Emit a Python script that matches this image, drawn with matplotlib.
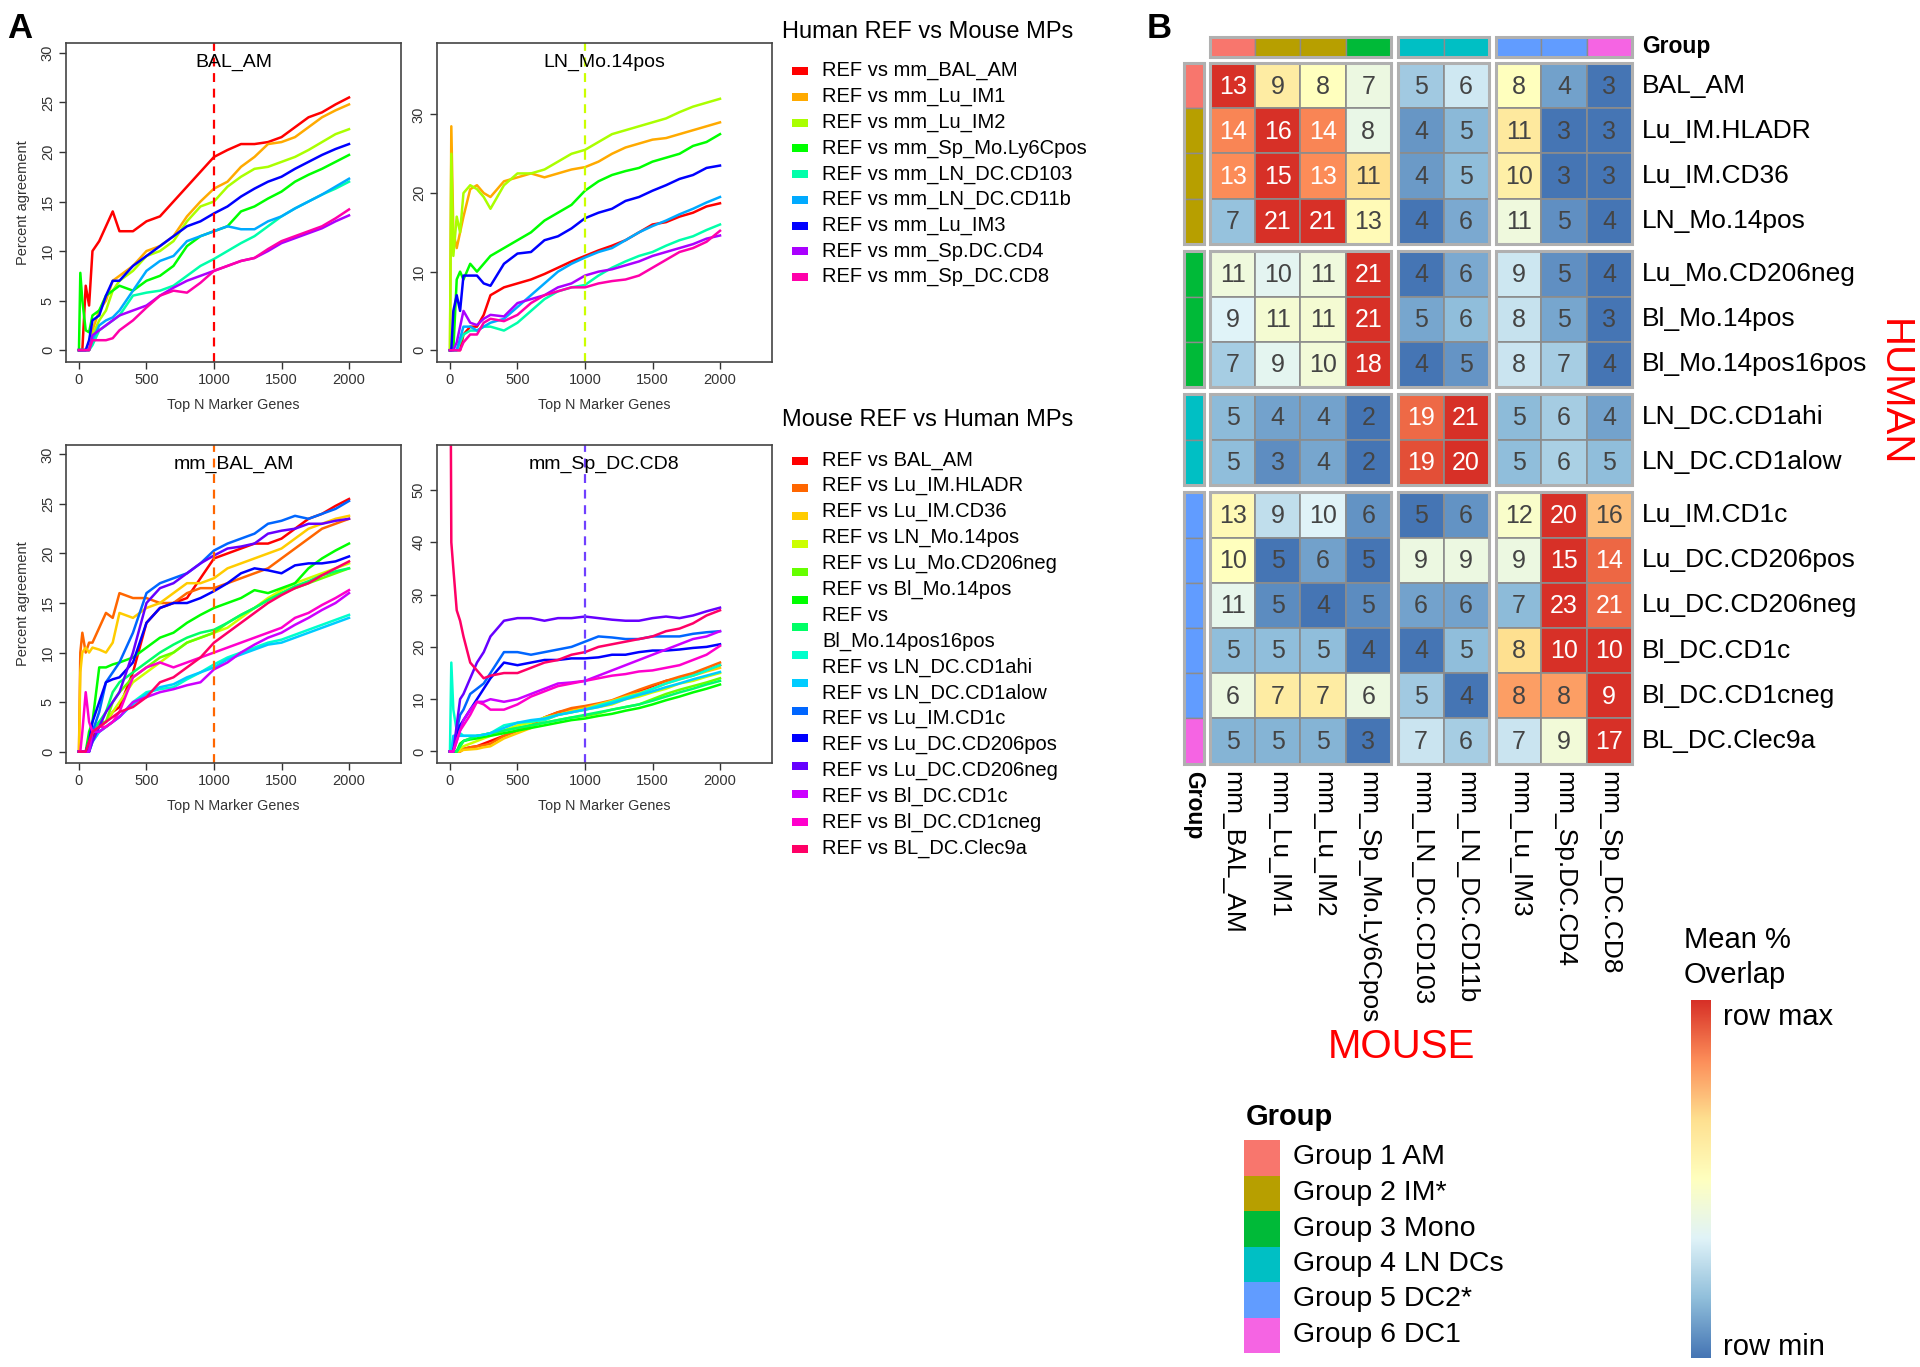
import numpy as np
import matplotlib
matplotlib.use("Agg")
import matplotlib.pyplot as plt
from matplotlib.patches import Rectangle
from matplotlib.colors import LinearSegmentedColormap, hsv_to_rgb

plt.rcParams['font.family'] = ['Liberation Sans', 'DejaVu Sans']

# ---------------- panel A data (percent agreement read at these N) ----------------
top_n = [0, 10, 25, 50, 75, 100, 150, 200, 250, 300, 400, 500, 600, 700,
         800, 900, 1000, 1100, 1200, 1300, 1400, 1500, 1600, 1700, 1800, 1900, 2000]

mouse_mps = ['mm_BAL_AM', 'mm_Lu_IM1', 'mm_Lu_IM2', 'mm_Sp_Mo.Ly6Cpos', 'mm_LN_DC.CD103',
             'mm_LN_DC.CD11b', 'mm_Lu_IM3', 'mm_Sp.DC.CD4', 'mm_Sp_DC.CD8']
human_mps = ['BAL_AM', 'Lu_IM.HLADR', 'Lu_IM.CD36', 'LN_Mo.14pos', 'Lu_Mo.CD206neg',
             'Bl_Mo.14pos', 'Bl_Mo.14pos16pos', 'LN_DC.CD1ahi', 'LN_DC.CD1alow', 'Lu_IM.CD1c',
             'Lu_DC.CD206pos', 'Lu_DC.CD206neg', 'Bl_DC.CD1c', 'Bl_DC.CD1cneg', 'BL_DC.Clec9a']

# human REF BAL_AM vs mouse MPs
ref_bal_am = [
    [0, 0, 0, 6.5, 4.5, 10, 11, 12.5, 14, 12, 12, 13, 13.5, 15, 16.5, 18, 19.5, 20.2, 20.8, 20.8, 21, 21.5, 22.5, 23.5, 24, 24.8, 25.5],
    [0, 0, 0, 0, 0, 2, 4, 5, 7, 7.5, 8.5, 10, 10.5, 11.5, 13.5, 15, 16.3, 17, 18.5, 19.5, 20.8, 21, 21.5, 22.5, 23.5, 24.2, 24.8],
    [0, 0, 0, 0, 0, 1.5, 3, 4, 6, 7, 8, 9.5, 10, 11, 13, 14.5, 15, 16.5, 17.5, 18.3, 18.5, 19, 19.5, 20.2, 21, 21.8, 22.3],
    [0, 7.8, 5, 2, 1.8, 3.5, 4, 5.5, 6, 6.5, 6, 7, 7.5, 8.5, 10.5, 11.5, 12, 12.5, 14, 14.5, 15.3, 16, 17, 17.7, 18.3, 19, 19.7],
    [0, 0, 0, 0, 0, 0.5, 2, 2.5, 3, 3.5, 5.5, 5.8, 6, 6.5, 7.5, 8.5, 9.2, 10, 10.8, 11.5, 12.5, 13.5, 14.3, 15, 15.7, 16.3, 17],
    [0, 0, 0, 0, 0, 1, 2.5, 3, 3.3, 4, 6, 8, 9, 9.5, 11, 11.5, 12, 12.5, 12.2, 12.2, 13, 13.5, 14.3, 15, 15.7, 16.5, 17.3],
    [0, 0, 0, 0, 1, 3, 3.5, 5.5, 7, 7, 8.5, 9.5, 10.5, 11.5, 12.5, 13, 13.8, 14.5, 15.5, 16.3, 17, 17.5, 18.3, 19, 19.7, 20.3, 20.8],
    [0, 0, 0, 0, 0, 1.5, 2, 2.5, 3, 3.5, 4, 4.5, 5.5, 6.3, 7, 7.5, 8, 8.5, 9, 9.3, 10, 10.8, 11.3, 11.8, 12.3, 13, 13.6],
    [0, 0, 0, 0, 0, 1, 1, 1, 1.2, 2, 3, 4.3, 5.5, 6, 5.8, 6.8, 8, 8.5, 9, 9.3, 10.2, 11, 11.5, 12, 12.5, 13.3, 14.2],
]

# human REF LN_Mo.14pos vs mouse MPs
ref_ln_mo14 = [
    [0, 0, 0, 0, 0, 2, 3, 3, 4.5, 7, 8, 8.5, 9, 9.7, 10.5, 11.3, 12, 12.7, 13.3, 14, 15, 16, 16.3, 17, 17.5, 18.3, 18.7],
    [0, 28.5, 15, 13, 15, 17, 20.5, 21, 20, 19.5, 21.5, 22, 22.5, 22, 22.5, 23, 23.3, 24, 25, 25.8, 26.3, 26.8, 27, 27.5, 28, 28.5, 29],
    [0, 25, 12, 17, 15, 20, 21, 20.5, 19.5, 18, 21, 22.5, 22.5, 23, 24, 25, 25.5, 26.5, 27.5, 28, 28.5, 29, 29.5, 30.3, 31, 31.5, 32],
    [0, 0, 0, 9, 10, 9, 11, 10, 11, 12, 13, 14, 15, 16.5, 17.5, 18.5, 20.3, 21.5, 22.3, 22.8, 23.2, 24, 24.5, 25, 26, 26.5, 27.5],
    [0, 0, 0, 0, 1, 2, 2.5, 2.5, 3, 3, 2.5, 3.5, 5, 6.5, 7.5, 8, 8.3, 9.5, 10.5, 11.3, 12, 12.5, 13.3, 14, 14.5, 15.3, 16],
    [0, 0, 0, 0, 1.5, 3, 3, 2.5, 3, 3.5, 4, 5.5, 7, 8.5, 10, 11, 11.8, 12.5, 13, 14, 15, 15.8, 16.5, 17.3, 18, 18.8, 19.5],
    [0, 0, 5, 7, 5, 9.5, 9.5, 9.5, 8.5, 8.2, 11, 12.3, 12.5, 14, 14.5, 15.5, 16.8, 17.5, 18, 19, 19.5, 20.3, 21, 21.8, 22.3, 23.2, 23.5],
    [0, 0, 0, 1, 3, 5, 3.5, 3.2, 4, 4.5, 4.3, 6, 6.5, 7, 8, 8.5, 9.5, 10, 10.3, 10.8, 11.3, 12, 12.5, 13, 13.5, 14.2, 14.6],
    [0, 0, 0, 0, 0, 1, 2, 2, 3.5, 4, 3.7, 4.5, 6, 7, 7.5, 8, 8, 8.5, 8.8, 9, 9.5, 10.5, 11.5, 12.5, 13, 13.8, 15.2],
]

# mouse REF mm_BAL_AM vs human MPs
ref_mm_bal_am = [
    [0, 0, 0, 0, 0, 1.5, 2.5, 3, 4, 4.5, 8, 13, 14.5, 15, 15.5, 17.5, 19.5, 20, 20.5, 21, 21, 21.5, 22.5, 23.5, 24, 24.8, 25.5],
    [0, 10, 12, 10, 11, 11, 12.5, 14, 13.5, 16, 15.5, 15.5, 15, 15, 16, 16.5, 16.5, 17, 17.5, 18, 18.5, 19.5, 20.5, 21.5, 22.5, 23, 23.5],
    [0, 8, 10, 10.5, 10, 10.5, 10.3, 10, 11, 14, 13.5, 14.5, 15, 16, 17, 17, 17.5, 18.5, 19, 19.5, 20, 20.5, 21.5, 22.5, 23, 23.5, 23.8],
    [0, 0, 0, 0, 1, 2, 2.5, 3, 4, 5, 7, 8, 9, 10, 11, 11.5, 12, 12.5, 13.5, 14.5, 15.5, 16.3, 17, 17.5, 18, 18.5, 19],
    [0, 0, 0, 0, 1, 2, 3, 3, 5, 6, 7.5, 8.5, 9.5, 10, 11, 11.5, 12, 13, 13.8, 14.5, 15.3, 16, 16.5, 17, 17.5, 18, 18.5],
    [0, 0, 0, 0, 2, 3, 8.5, 8.5, 8.8, 9, 9.5, 10.5, 11.5, 12, 13, 13.8, 14.5, 15, 15.5, 16.3, 16, 16.5, 17, 18.5, 19.5, 20.3, 21],
    [0, 0, 0, 0, 1, 2, 3, 4, 6, 7, 8, 9, 10, 10.8, 11.5, 12, 12.3, 13, 13.8, 14.5, 15.3, 16, 16.7, 17.2, 17.8, 18.2, 18.5],
    [0, 0, 0, 0, 0, 1, 2, 2.5, 3, 3.5, 5, 6, 6.3, 6.5, 7.3, 8, 8.8, 9.5, 10, 10.5, 11, 11.3, 11.8, 12.3, 12.8, 13.3, 13.8],
    [0, 0, 0, 0, 0, 1, 2, 2.5, 3, 3.5, 4.8, 5.8, 6.5, 6.8, 7.5, 8, 8.5, 9.3, 9.8, 10.3, 10.8, 11, 11.5, 12, 12.5, 13, 13.5],
    [0, 0, 0, 0, 0, 2, 4, 7, 8, 9, 12, 16, 17, 17.5, 18, 19, 20.3, 21, 21.5, 22, 23, 23.3, 23.8, 23.5, 24, 24.5, 25.3],
    [0, 0, 0, 0, 1, 3, 5, 7, 7.3, 7.5, 9, 13, 14.5, 15, 15, 15.5, 16.2, 17, 18, 18.5, 18.3, 18, 18.8, 19, 19, 19.2, 19.7],
    [0, 0, 0, 0, 0, 1, 2.5, 4, 5, 6, 10, 15, 16.5, 17, 18, 19, 19.8, 20.5, 20.7, 21, 22, 22.3, 22.5, 23, 23, 23.3, 23.5],
    [0, 0, 0, 0, 0, 2, 2, 2.5, 3, 3.5, 5, 5.5, 6, 6.3, 6.7, 7, 8.3, 9, 10, 10.8, 11.5, 12, 12.8, 13.5, 14.3, 15, 16],
    [0, 0, 2, 6, 3, 2, 2.5, 2.5, 3, 4, 7.5, 8.5, 9, 8.5, 9, 9.5, 10, 10.5, 11, 11.5, 12, 12.5, 13.5, 14, 14.8, 15.5, 16.3],
    [0, 0, 0, 0, 1, 2, 2.5, 3, 3.5, 4, 4.5, 5.5, 7, 7.5, 8.5, 9.5, 11, 12, 13, 14, 15, 15.8, 16.5, 17, 17.8, 18.5, 19.2],
]

# mouse REF mm_Sp_DC.CD8 vs human MPs
ref_mm_sp_dc_cd8 = [
    [0, 0, 0, 0, 0, 0.5, 0.8, 1, 1.5, 2, 3, 4, 5, 6.5, 7.5, 8, 8.5, 9, 9.5, 10.5, 11.5, 12.5, 13.5, 14, 14.8, 15.5, 16.5],
    [0, 0, 0, 0, 0, 0.5, 0.8, 1, 1.2, 1.5, 3, 4, 5, 6.5, 7.5, 8.3, 8.7, 9.2, 9.8, 10.8, 11.8, 12.7, 13.5, 14.3, 15, 16, 17],
    [0, 0, 0, 0, 0, 0.3, 0.4, 0.5, 0.8, 1, 2.5, 3.5, 4.5, 6, 7, 7.8, 8.3, 9, 9.7, 10.5, 11.2, 12, 13, 13.8, 14.5, 15.3, 16],
    [0, 0, 0, 0, 0.5, 1, 1.5, 2, 2.5, 3, 4, 5, 5.5, 6.5, 7, 7.5, 8, 8.5, 9, 10, 10.5, 11.3, 12, 13, 13.5, 14.3, 15],
    [0, 0, 0, 0, 1, 2, 2.5, 3, 3.2, 3.5, 4, 4.5, 5, 5.5, 6, 6.5, 6.8, 7.3, 8, 8.5, 9, 10, 11, 11.8, 12.5, 13.2, 14],
    [0, 0, 0, 0, 1.5, 2, 2.3, 2.5, 2.8, 3, 3.5, 4, 4.5, 5, 5.5, 6, 6.3, 6.8, 7.2, 7.8, 8.3, 9, 9.8, 10.5, 11.3, 12, 12.8],
    [0, 0, 0, 0, 1, 2, 2.5, 3, 3.2, 3.5, 4, 4.5, 5, 5.5, 6, 6.5, 7, 7.5, 8, 8.5, 9, 9.7, 10.5, 11.3, 12, 12.8, 13.5],
    [0, 17, 8, 4, 3.5, 3, 3, 3, 3.2, 3.5, 5, 5.5, 5.7, 6, 7, 7.5, 8, 8.8, 9.5, 10.3, 11, 12, 13, 13.8, 14.5, 15.5, 16.5],
    [0, 0, 3, 3, 3, 3, 3, 3, 3.2, 3.5, 4.5, 5.5, 6, 6.3, 7, 7.5, 8, 8.5, 9.2, 10, 10.8, 11.5, 12.3, 13, 13.8, 14.5, 15.2],
    [0, 0, 0, 4, 7, 8, 11, 12, 13, 15, 19, 19, 18.5, 19, 19.5, 20, 21, 22, 21.8, 21.5, 21.5, 22, 22, 22, 22.5, 22.8, 23],
    [0, 0, 0, 3, 5, 6, 8, 10, 12, 14, 17, 16.5, 17, 17.5, 17.5, 17.8, 17.8, 18, 18.5, 18.5, 19, 19.3, 19.3, 19.5, 19.8, 20, 20.5],
    [0, 0, 0, 5, 10, 11, 14, 17, 19, 22, 25, 25.5, 25.5, 25, 25.5, 25.5, 25.8, 25.5, 25.2, 25, 25, 25.5, 25.8, 25.5, 26, 26.8, 27.5],
    [0, 0, 0, 2, 4, 6, 8, 9.5, 9.5, 10, 9.5, 10, 11, 12, 13, 13.2, 13.5, 14.5, 15.5, 16.5, 17.5, 18.5, 19.5, 20.5, 21.5, 22, 23],
    [0, 0, 0, 2, 4, 5, 7, 9.5, 9, 8, 8, 9, 10.5, 11.5, 12.5, 13, 13.5, 14, 14.5, 14.8, 15.3, 15.5, 16, 16.5, 17.5, 18.5, 20.2],
    [100, 40, 35, 27, 25, 22, 17, 15.5, 14, 14.5, 15, 15, 16, 17, 17.5, 18.5, 19, 20, 20.5, 21, 21.5, 22, 23, 23.5, 24.5, 26, 27],
]

# ---------------- panel B data (mean % overlap, human rows x mouse cols) ----------------
overlap = [
    [13, 9, 8, 7, 5, 6, 8, 4, 3],
    [14, 16, 14, 8, 4, 5, 11, 3, 3],
    [13, 15, 13, 11, 4, 5, 10, 3, 3],
    [7, 21, 21, 13, 4, 6, 11, 5, 4],
    [11, 10, 11, 21, 4, 6, 9, 5, 4],
    [9, 11, 11, 21, 5, 6, 8, 5, 3],
    [7, 9, 10, 18, 4, 5, 8, 7, 4],
    [5, 4, 4, 2, 19, 21, 5, 6, 4],
    [5, 3, 4, 2, 19, 20, 5, 6, 5],
    [13, 9, 10, 6, 5, 6, 12, 20, 16],
    [10, 5, 6, 5, 9, 9, 9, 15, 14],
    [11, 5, 4, 5, 6, 6, 7, 23, 21],
    [5, 5, 5, 4, 4, 5, 8, 10, 10],
    [6, 7, 7, 6, 5, 4, 8, 8, 9],
    [5, 5, 5, 3, 7, 6, 7, 9, 17],
]
group_names = ['Group 1 AM', 'Group 2 IM*', 'Group 3 Mono', 'Group 4 LN DCs', 'Group 5 DC2*', 'Group 6 DC1']
group_colors = ['#F8766D', '#B79F00', '#00BA38', '#00BFC4', '#619CFF', '#F564E3']
row_groups = [0, 1, 1, 1, 2, 2, 2, 3, 3, 4, 4, 4, 4, 4, 5]
col_groups = [0, 1, 1, 2, 3, 3, 4, 4, 5]
row_block = [0, 0, 0, 0, 1, 1, 1, 2, 2, 3, 3, 3, 3, 3, 3]
col_block = [0, 0, 0, 0, 1, 1, 2, 2, 2]

W, H = 1920, 1367
fig = plt.figure(figsize=(19.2, 13.67), dpi=100)


def px_axes(x0, y0, x1, y1):
    return fig.add_axes([x0 / W, 1 - y1 / H, (x1 - x0) / W, (y1 - y0) / H])


# overlay in pixel coordinates for labels and legends
ov = px_axes(0, 0, W, H)
ov.set_xlim(0, W)
ov.set_ylim(H, 0)
ov.axis('off')


def rainbow(n):
    return [hsv_to_rgb((k / n, 1, 1)) for k in range(n)]


top_colors = rainbow(9)
bot_colors = rainbow(15)


def line_panel(box, series, colors, title, vcolor, ylim, yticks, ylabel):
    ax = px_axes(*box)
    for vals, c in zip(series, colors):
        ax.plot(top_n, vals, color=c, lw=1.8, solid_joinstyle='round')
    ax.axvline(1000, color=vcolor, lw=1.6, ls=(0, (4, 3)))
    ax.set_xlim(-96, 2385)
    ax.set_ylim(*ylim)
    ax.set_xticks([0, 500, 1000, 1500, 2000])
    ax.set_yticks(yticks)
    ax.tick_params(axis='both', direction='out', length=5, width=1, colors='#333333',
                   labelsize=10.5, pad=3)
    ax.tick_params(axis='y', labelrotation=90)
    for lab in ax.get_yticklabels():
        lab.set_va('center')
    for s in ax.spines.values():
        s.set_color('#444444')
        s.set_linewidth(1.2)
    ax.text(0.5, 0.94, title, transform=ax.transAxes, ha='center', va='center', fontsize=14)
    ax.text(0.5, -0.135, 'Top N Marker Genes', transform=ax.transAxes, ha='center',
            va='center', fontsize=10.3, color='#333333')
    if ylabel:
        ax.text(-0.128, 0.5, 'Percent agreement', transform=ax.transAxes, rotation=90,
                ha='center', va='center', fontsize=10.5, color='#333333')
    return ax


line_panel((66, 43, 401, 362), ref_bal_am, top_colors, 'BAL_AM', '#FF0000',
           (-1.2, 31.0), [0, 5, 10, 15, 20, 25, 30], True)
line_panel((437, 43, 772, 362), ref_ln_mo14, top_colors, 'LN_Mo.14pos', '#CCFF00',
           (-1.5, 39.1), [0, 10, 20, 30], False)
line_panel((66, 445, 401, 763), ref_mm_bal_am, bot_colors, 'mm_BAL_AM', '#FF6600',
           (-1.15, 30.95), [0, 5, 10, 15, 20, 25, 30], True)
line_panel((437, 445, 772, 763), ref_mm_sp_dc_cd8, bot_colors, 'mm_Sp_DC.CD8', '#7040FF',
           (-2.2, 58.6), [0, 10, 20, 30, 40, 50], False)

ov.text(20, 28, 'A', fontsize=25, weight='bold', ha='center', va='center')
ov.text(1159, 29, 'B', fontsize=25, weight='bold', ha='center', va='center')

# legends of panel A (R-style, built by hand)
ov.text(782, 32, 'Human REF vs Mouse MPs', fontsize=17, va='center')
for i, name in enumerate(mouse_mps):
    y = 71 + 25.75 * i
    ov.add_patch(Rectangle((792, y - 4), 16, 8, fc=top_colors[i], ec='none'))
    ov.text(822, y, 'REF vs ' + name, fontsize=14.5, va='center')

ov.text(782, 420, 'Mouse REF vs Human MPs', fontsize=17, va='center')
wrapped = {'Bl_Mo.14pos16pos'}
lines = []
for name in human_mps:
    if name in wrapped:
        lines += ['REF vs', name]
    else:
        lines.append('REF vs ' + name)
for k, txt in enumerate(lines):
    ov.text(822, 460 + 25.9 * k, txt, fontsize=14.5, va='center')
for i in range(len(human_mps)):
    y = 460.7 + 27.77 * i
    ov.add_patch(Rectangle((792, y - 4), 16, 8, fc=bot_colors[i], ec='none'))

# ---------------- panel B heatmap ----------------
cmap = LinearSegmentedColormap.from_list(
    'rdylbu_r', ['#4575B4', '#91BFDB', '#E0F3F8', '#FFFFBF', '#FEE090', '#FC8D59', '#D73027'])

cell = 45.2
gap = 0.166
nrow, ncol = len(human_mps), len(mouse_mps)
xmax = ncol + gap * max(col_block)
ymax = nrow + gap * max(row_block)
pad_l, pad_r = 0.75, 0.15
hx, hy = 1210, 63
hm = px_axes(hx - pad_l * cell, hy - pad_l * cell,
             hx + (xmax + pad_r) * cell, hy + (ymax + pad_r) * cell)
hm.set_xlim(-pad_l, xmax + pad_r)
hm.set_ylim(ymax + pad_r, -pad_l)
hm.axis('off')

vals = np.array(overlap, dtype=float)
rmin = vals.min(axis=1, keepdims=True)
rmax = vals.max(axis=1, keepdims=True)
scaled = (vals - rmin) / (rmax - rmin)

xs = [j + gap * col_block[j] for j in range(ncol)]
ys = [i + gap * row_block[i] for i in range(nrow)]
edge = '#8C8C8C'

for i in range(nrow):
    for j in range(ncol):
        hm.add_patch(Rectangle((xs[j], ys[i]), 1, 1, fc=cmap(scaled[i, j]), ec=edge, lw=1.2))
        tc = 'white' if scaled[i, j] > 0.82 else '#444444'
        hm.text(xs[j] + 0.5, ys[i] + 0.52, str(overlap[i][j]), ha='center', va='center',
                fontsize=18, color=tc)

# annotation bars
bar0, bar_h = -0.575, 0.442
for j in range(ncol):
    hm.add_patch(Rectangle((xs[j], bar0), 1, bar_h, fc=group_colors[col_groups[j]], ec=edge, lw=1.0))
for i in range(nrow):
    hm.add_patch(Rectangle((bar0, ys[i]), bar_h, 1, fc=group_colors[row_groups[i]], ec=edge, lw=1.0))

# block outlines
for cb in sorted(set(col_block)):
    cols = [j for j in range(ncol) if col_block[j] == cb]
    hm.add_patch(Rectangle((xs[cols[0]], bar0), len(cols), bar_h, fill=False, ec='#B0B0B0', lw=2.2))
    for rb in sorted(set(row_block)):
        rows = [i for i in range(nrow) if row_block[i] == rb]
        hm.add_patch(Rectangle((xs[cols[0]], ys[rows[0]]), len(cols), len(rows),
                               fill=False, ec='#B0B0B0', lw=2.2))
for rb in sorted(set(row_block)):
    rows = [i for i in range(nrow) if row_block[i] == rb]
    hm.add_patch(Rectangle((bar0, ys[rows[0]]), bar_h, len(rows), fill=False, ec='#B0B0B0', lw=2.2))

for i, name in enumerate(human_mps):
    hm.text(xmax + 0.22, ys[i] + 0.5, name, ha='left', va='center', fontsize=19)
for j, name in enumerate(mouse_mps):
    hm.text(xs[j] + 0.5, ymax + 0.17, name, ha='center', va='top', rotation=270, fontsize=19)
hm.text(xmax + 0.22, bar0 + bar_h / 2, 'Group', ha='left', va='center', fontsize=16.5, weight='bold')
hm.text(bar0 + bar_h / 2, ymax + 0.17, 'Group', ha='center', va='top', rotation=270,
        fontsize=16.5, weight='bold')

ov.text(1894, 393, 'HUMAN', rotation=270, color='#FF0000', fontsize=29, ha='center', va='center')
ov.text(1401, 1047, 'MOUSE', color='#FF0000', fontsize=29, ha='center', va='center')

# group legend
ov.text(1246, 1117, 'Group', fontsize=21, weight='bold', va='center')
for k, (gname, gcol) in enumerate(zip(group_names, group_colors)):
    y0 = 1140 + k * 35.5
    ov.add_patch(Rectangle((1244, y0), 36, 35.5, fc=gcol, ec='none'))
    ov.text(1293, y0 + 17.5, gname, fontsize=20.5, va='center')

# colour key
cax = px_axes(1691, 1000, 1711, 1358)
cax.imshow(np.linspace(1, 0, 256).reshape(-1, 1), aspect='auto', cmap=cmap)
cax.axis('off')
ov.text(1684, 940, 'Mean %', fontsize=21, va='center')
ov.text(1684, 975, 'Overlap', fontsize=21, va='center')
ov.text(1723, 1017, 'row max', fontsize=21, va='center')
ov.text(1723, 1347, 'row min', fontsize=21, va='center')

fig.savefig('out.png', dpi=100, facecolor='white')
